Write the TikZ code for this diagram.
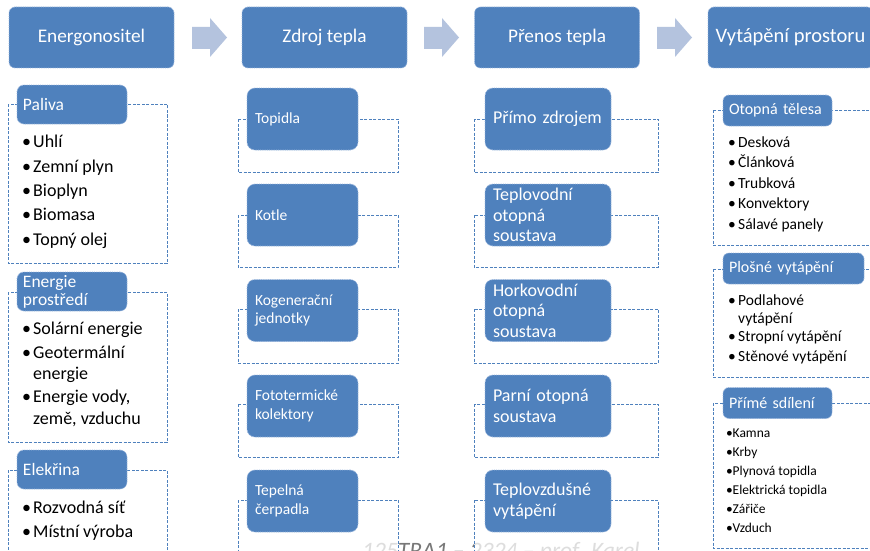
\documentclass[tikz,border=0pt]{standalone}
\usepackage{fontspec}
\setmainfont{Carlito}
\definecolor{boxblue}{RGB}{79,129,189}
\definecolor{boxedge}{RGB}{155,183,222}
\definecolor{arrowc}{RGB}{180,195,222}
\definecolor{wmgray}{RGB}{120,120,120}
\newcommand{\bu}[1]{\makebox[#1][l]{\textbullet}}
\tikzset{
  hdr/.style={rectangle, rounded corners=6pt, fill=boxblue, draw=boxedge, densely dotted, line width=0.8pt,
    text=white, font=\fontsize{19.3}{23}\selectfont, minimum width=165pt, minimum height=61pt, inner sep=0pt},
  tbox/.style={rectangle, fill=boxblue, draw=boxedge, densely dotted, line width=0.8pt,
    text=white, align=left, inner ysep=0pt},
  tb1/.style={tbox, rounded corners=7pt, inner xsep=6pt, text width=98pt, minimum height=39pt,
    font=\fontsize{17.5}{18}\selectfont},
  bx2/.style={tbox, rounded corners=8pt, inner xsep=8pt, text width=95pt, minimum height=62pt,
    font=\fontsize{15.5}{18.5}\selectfont},
  bx3/.style={tbox, rounded corners=8pt, inner xsep=8pt, text width=110pt, minimum height=62pt,
    font=\fontsize{18}{20.5}\selectfont},
  tb4/.style={tbox, rounded corners=6pt, inner xsep=6pt, minimum height=31pt,
    font=\fontsize{16}{18}\selectfont},
  outer/.style={draw=boxblue, dash pattern=on 3pt off 1.5pt, line width=0.8pt, fill=white, fill opacity=0.75},
  bul/.style={anchor=base west, inner sep=0pt, font=\fontsize{18}{20}\selectfont},
  bul4/.style={anchor=base west, inner sep=0pt, font=\fontsize{15.5}{18}\selectfont},
  bul5/.style={anchor=base west, inner sep=0pt, font=\fontsize{13.5}{16}\selectfont},
  wm/.style={anchor=base west, inner sep=0pt, text=wmgray, font=\fontsize{23.5}{26}\selectfont\itshape}
}
\begin{document}
\begin{tikzpicture}[x=1pt,y=-1pt]
\useasboundingbox (0,0) rectangle (870,551);
\clip (0,0) rectangle (870,551);
\fill[white] (0,0) rectangle (870,551);

% watermark (partly covered)
\node[wm] (wm) at (362,558) {125TRA1 – 2324 – prof. Karel};

% header row
\node[hdr] (h1) at (91.5,37.5) {Energonositel};
\node[hdr] (h2) at (324.5,37.5) {Zdroj tepla};
\node[hdr] (h3) at (557,37.5) {Přenos tepla};
\node[hdr, font=\fontsize{20.5}{24}\selectfont] (h4) at (790.5,37.5) {Vytápění prostoru};
\foreach \ax in {192,424,657}{
  \fill[arrowc] (\ax,27) -- ({\ax+18},27) -- ({\ax+18},18) -- ({\ax+35},37.5)
    -- ({\ax+18},57) -- ({\ax+18},49) -- (\ax,49) -- cycle;
}

% ---------- column 1 ----------
\draw[outer] (8,104) rectangle (167,263);
\draw[outer] (8,292) rectangle (167,442);
\draw[outer] (8,470) rectangle (167,570);
\node[tb1] (c1a) at (72,104.5) {Paliva};
\node[tb1] (c1b) at (72,291.5) {Energie\\prostředí};
\node[tb1] (c1c) at (72,469.5) {Elekřina};
\node[bul] (p1) at (22,147.5) {\bu{11pt}Uhlí};
\node[bul] (p2) at (22,172) {\bu{11pt}Zemní plyn};
\node[bul] (p3) at (22,196.5) {\bu{11pt}Bioplyn};
\node[bul] (p4) at (22,220.8) {\bu{11pt}Biomasa};
\node[bul] (p5) at (22,245) {\bu{11pt}Topný olej};
\node[bul] (e1) at (22,334) {\bu{11pt}Solární energie};
\node[bul] (e2) at (22,358.3) {\bu{11pt}Geotermální};
\node[bul] (e3) at (22,379.5) {\hspace*{11pt}energie};
\node[bul] (e4) at (22,402.7) {\bu{11pt}Energie vody,};
\node[bul] (e5) at (22,424) {\hspace*{11pt}země, vzduchu};
\node[bul] (k1) at (22,513) {\bu{11pt}Rozvodná síť};
\node[bul] (k2) at (22,537) {\bu{11pt}Místní výroba};

% ---------- column 2 ----------
\draw[outer] (238,119) rectangle (398,172);
\draw[outer] (238,215) rectangle (398,267);
\draw[outer] (238,309) rectangle (398,363);
\draw[outer] (238,404) rectangle (398,457);
\draw[outer] (238,500) rectangle (398,570);
\node[bx2] (z1) at (302.5,119) {Topidla};
\node[bx2] (z2) at (302.5,215) {Kotle};
\node[bx2] (z3) at (302.5,310.5) {Kogenerační\\jednotky};
\node[bx2] (z4) at (302.5,406) {Fototermické\\kolektory};
\node[bx2] (z5) at (302.5,501) {Tepelná\\čerpadla};

% ---------- column 3 ----------
\draw[outer] (474,119) rectangle (658,172);
\draw[outer] (474,215) rectangle (658,267);
\draw[outer] (474,309) rectangle (658,363);
\draw[outer] (474,404) rectangle (658,457);
\draw[outer] (474,500) rectangle (658,570);
\node[bx3] (n1) at (548,119) {Přímo zdrojem};
\node[bx3] (n2) at (548,215) {Teplovodní\\otopná\\soustava};
\node[bx3] (n3) at (548,310.5) {Horkovodní\\otopná\\soustava};
\node[bx3] (n4) at (548,406) {Parní otopná\\soustava};
\node[bx3] (n5) at (548,501) {Teplovzdušné\\vytápění};

% ---------- column 4 ----------
\draw[outer] (713,110) rectangle (890,245);
\draw[outer] (713,269) rectangle (890,377);
\draw[outer] (713,403) rectangle (890,548);
\node[tb4, text width=97pt] (v1) at (777.5,110.5) {Otopná tělesa};
\node[tb4, text width=129pt] (v2) at (793.5,268.5) {Plošné vytápění};
\node[tb4, text width=97pt] (v3) at (777.5,403) {Přímé sdílení};
\node[bul4] (o1) at (728,147) {\bu{10pt}Desková};
\node[bul4] (o2) at (728,167.5) {\bu{10pt}Článková};
\node[bul4] (o3) at (728,188) {\bu{10pt}Trubková};
\node[bul4] (o4) at (728,208.5) {\bu{10pt}Konvektory};
\node[bul4] (o5) at (728,229) {\bu{10pt}Sálavé panely};
\node[bul4] (s1) at (728,305) {\bu{10pt}Podlahové};
\node[bul4] (s2) at (728,323.3) {\hspace*{10pt}vytápění};
\node[bul4] (s3) at (728,341.8) {\bu{10pt}Stropní vytápění};
\node[bul4] (s4) at (728,361.7) {\bu{10pt}Stěnové vytápění};
\node[bul5] (d1) at (726,437) {\bu{6.5pt}Kamna};
\node[bul5] (d2) at (726,456) {\bu{6.5pt}Krby};
\node[bul5] (d3) at (726,475) {\bu{6.5pt}Plynová topidla};
\node[bul5] (d4) at (726,494) {\bu{6.5pt}Elektrická topidla};
\node[bul5] (d5) at (726,513) {\bu{6.5pt}Zářiče};
\node[bul5] (d6) at (726,532) {\bu{6.5pt}Vzduch};
\end{tikzpicture}
\end{document}
